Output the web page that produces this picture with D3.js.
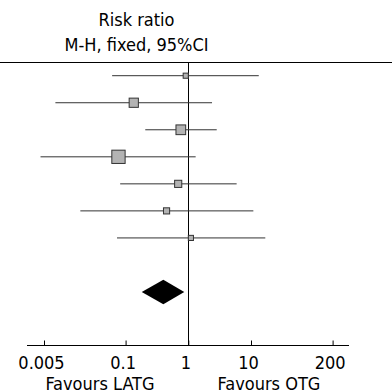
<!DOCTYPE html>
<html>
<head>
<meta charset="utf-8">
<title>Risk ratio forest plot</title>
<style>
    body { margin: 0; background: #fff; }
    svg text { font-family: "DejaVu Sans Condensed", "DejaVu Sans", Verdana, sans-serif; font-size: 18px; fill: #000; }
    .ci { stroke: #333; stroke-width: 1; }
    .box { fill: #b3b3b3; stroke: #333; stroke-width: 1; }
</style>
</head>
<body>
<svg id="forest"></svg>
<script src="https://d3js.org/d3.v7.min.js"></script>
<script>
// one row per study, then an empty row, then the pooled estimate
var studies = ["S1", "S2", "S3", "S4", "S5", "S6", "S7"];
var rr      = [0.91, 0.135, 0.76, 0.077, 0.69, 0.45, 1.10];
var ciLow   = [0.061, 0.0076, 0.206, 0.0044, 0.082, 0.019, 0.073];
var ciHigh  = [13.3, 2.39, 2.84, 1.31, 5.9, 10.9, 16.9];
var weights = [5.3, 17.1, 19.0, 35.6, 10.3, 7.6, 5.3];
var pooled  = { rr: 0.40, lo: 0.181, hi: 0.863 };
var tickVals = [0.005, 0.1, 1, 10, 200];
var tickLabels = ["0.005", "0.1", "1", "10", "200"];
var titleLines = ["Risk ratio", "M-H, fixed, 95%CI"];
var favours = ["Favours LATG", "Favours OTG"];

var W = 392, H = 392;
var topLine = 62.5, axisY = 345.5;

var svg = d3.select("#forest").attr("width", W).attr("height", H);

var x = d3.scaleLog().domain([0.005, 200]).range([44, 332.6]);
var rowIds = studies.concat(["blank", "total"]);
var y = d3.scalePoint().domain(rowIds).range([75.7, 292]);
var side = d3.scaleSqrt().domain([0, d3.max(weights)]).range([0, 13.3]);

var data = studies.map(function(s, i) {
    return { id: s, rr: rr[i], lo: ciLow[i], hi: ciHigh[i], w: weights[i] };
});

// header
svg.append("g").selectAll("text").data(titleLines).enter()
    .append("text")
    .attr("x", 136.5)
    .attr("y", function(d, i) { return 26 + i * 25; })
    .attr("text-anchor", "middle")
    .text(function(d) { return d; });

svg.append("line")
    .attr("x1", 0).attr("x2", W)
    .attr("y1", topLine).attr("y2", topLine)
    .attr("stroke", "#000");

// line of no effect
svg.append("line")
    .attr("x1", Math.round(x(1)) + 0.5).attr("x2", Math.round(x(1)) + 0.5)
    .attr("y1", topLine).attr("y2", axisY)
    .attr("stroke", "#000");

// confidence intervals
var rows = svg.append("g").attr("class", "rows");
rows.selectAll("line.ci").data(data).enter()
    .append("line")
    .attr("class", "ci")
    .attr("x1", function(d) { return x(d.lo); })
    .attr("x2", function(d) { return x(d.hi); })
    .attr("y1", function(d) { return y(d.id); })
    .attr("y2", function(d) { return y(d.id); });

rows.selectAll("rect.box").data(data).enter()
    .append("rect")
    .attr("class", "box")
    .attr("x", function(d) { return x(d.rr) - side(d.w) / 2; })
    .attr("y", function(d) { return y(d.id) - side(d.w) / 2; })
    .attr("width", function(d) { return side(d.w); })
    .attr("height", function(d) { return side(d.w); });

// pooled diamond
var ty = y("total"), dh = 12.2;
svg.append("path")
    .attr("d", "M" + x(pooled.lo) + "," + ty +
               "L" + x(pooled.rr) + "," + (ty - dh) +
               "L" + x(pooled.hi) + "," + ty +
               "L" + x(pooled.rr) + "," + (ty + dh) + "Z")
    .attr("fill", "#000");

// axis
var axis = d3.axisBottom(x)
    .tickValues(tickVals)
    .tickFormat(function(d, i) { return tickLabels[i]; })
    .tickSize(-5)
    .tickPadding(11);

var ax = svg.append("g")
    .attr("transform", "translate(0," + axisY + ")")
    .call(axis);
ax.select(".domain").remove();
ax.selectAll("text").attr("font-size", null).attr("font-family", null).attr("dx", -3);
ax.selectAll(".tick line").attr("stroke", "#000");
ax.append("line")
    .attr("x1", 27).attr("x2", 349)
    .attr("stroke", "#000");

svg.append("g").selectAll("text").data(favours).enter()
    .append("text")
    .attr("x", function(d, i) { return i === 0 ? 100 : 269; })
    .attr("y", 389.5)
    .attr("text-anchor", "middle")
    .text(function(d) { return d; });
</script>
</body>
</html>
